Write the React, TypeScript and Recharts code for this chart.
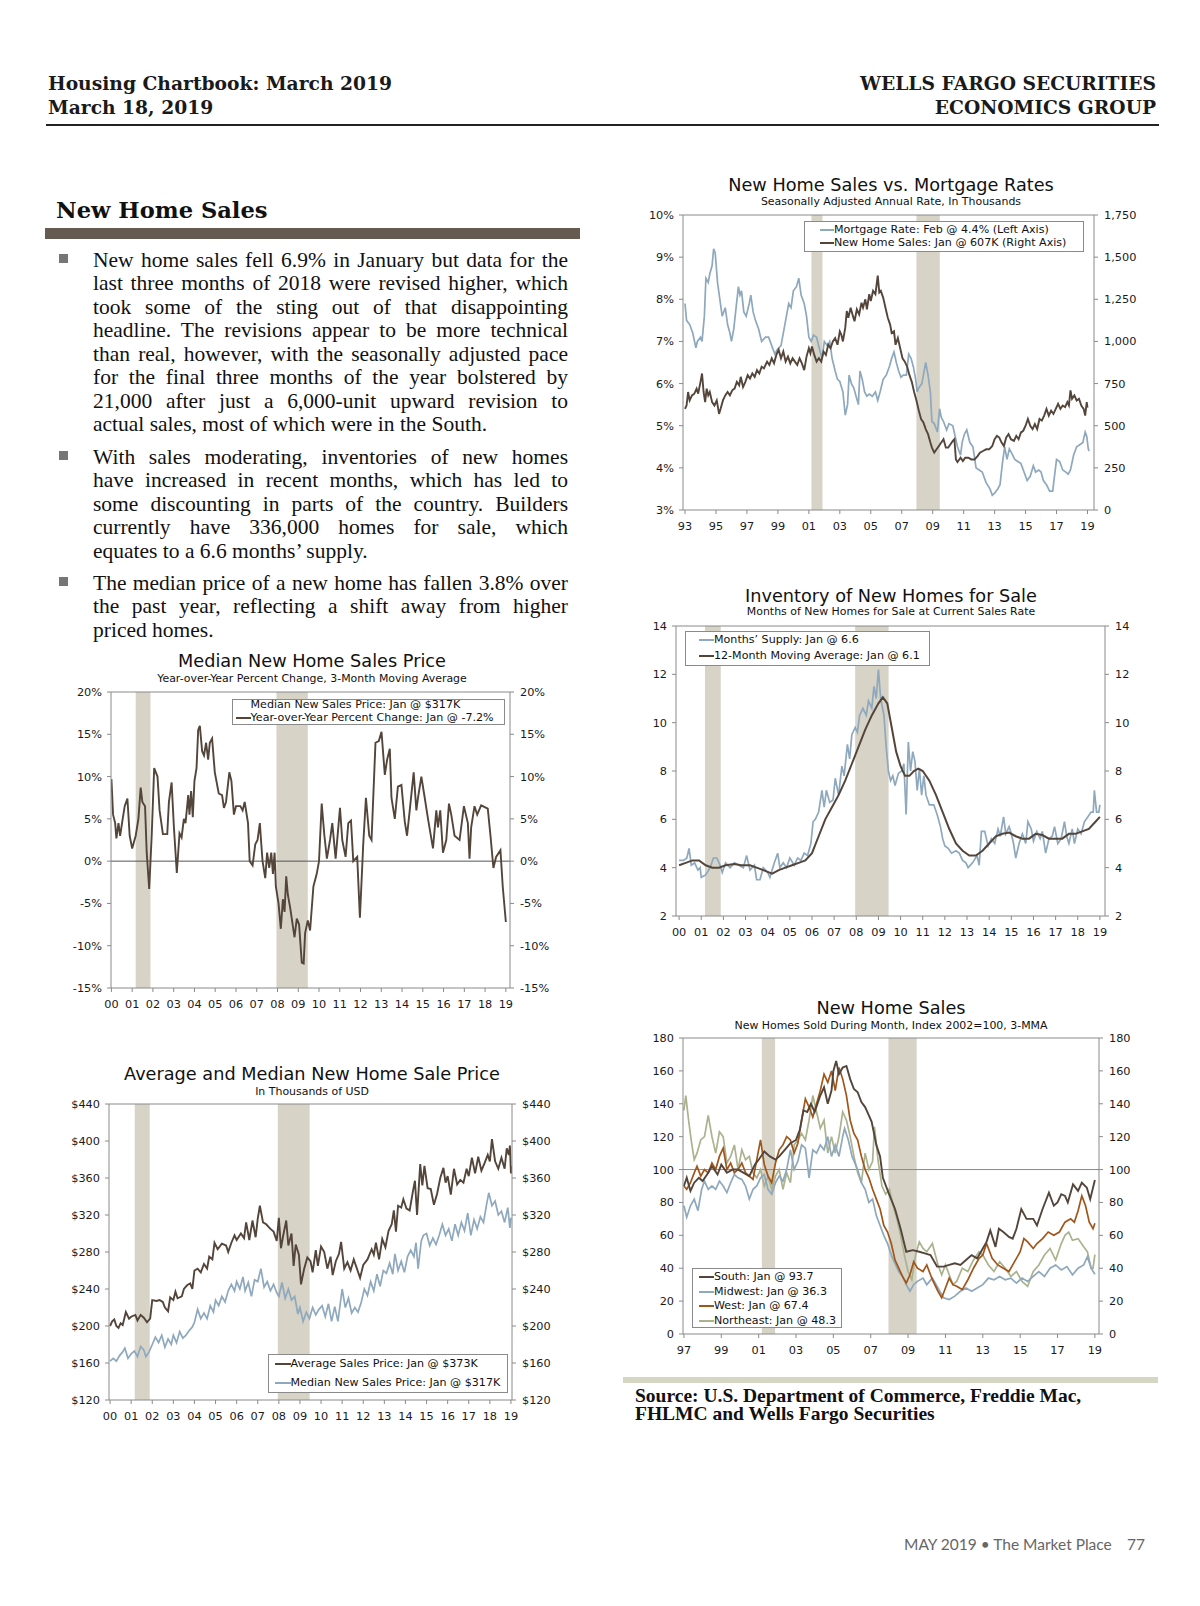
import React from 'react';
import { LineChart, Line, XAxis, YAxis, ReferenceArea, ReferenceLine } from 'recharts';

type Pt = [number, number];

// ---------------- DATA ----------------
const recessions: Pt[] = [[2001.17, 2001.88], [2007.95, 2009.46]];

// Chart: New Home Sales vs. Mortgage Rates
const mortgageRate: Pt[] = [
  [1993.0, 7.9], [1993.1, 7.5], [1993.3, 7.4], [1993.5, 7.2], [1993.7, 6.85], [1993.8, 7.0], [1994.0, 7.1], [1994.1, 7.0],
  [1994.25, 7.6], [1994.35, 8.5], [1994.5, 8.4], [1994.6, 8.6], [1994.75, 8.8], [1994.85, 9.2], [1994.95, 9.1], [1995.1, 8.4],
  [1995.25, 8.0], [1995.4, 7.6], [1995.5, 7.7], [1995.6, 7.8], [1995.75, 7.4], [1995.9, 7.2], [1996.0, 7.0], [1996.15, 7.3],
  [1996.3, 7.8], [1996.45, 8.3], [1996.55, 8.1], [1996.65, 8.2], [1996.8, 7.7], [1996.95, 7.6], [1997.15, 7.9], [1997.25, 8.1],
  [1997.4, 7.7], [1997.55, 7.5], [1997.75, 7.3], [1997.95, 7.0], [1998.2, 7.1], [1998.4, 7.1], [1998.6, 6.9], [1998.8, 6.7],
  [1998.95, 6.8], [1999.2, 6.9], [1999.4, 7.3], [1999.55, 7.6], [1999.7, 7.9], [1999.85, 7.8], [2000.0, 8.2], [2000.2, 8.3],
  [2000.35, 8.5], [2000.5, 8.1], [2000.7, 7.9], [2000.85, 7.6], [2001.0, 7.1], [2001.15, 7.0], [2001.3, 7.15], [2001.5, 7.1],
  [2001.7, 6.8], [2001.85, 6.6], [2002.0, 7.0], [2002.2, 6.9], [2002.35, 7.0], [2002.5, 6.6], [2002.7, 6.3], [2002.85, 6.1],
  [2003.0, 6.05], [2003.2, 5.8], [2003.35, 5.25], [2003.5, 5.5], [2003.6, 6.2], [2003.75, 6.0], [2003.9, 5.9], [2004.05, 5.7],
  [2004.2, 5.5], [2004.3, 6.3], [2004.45, 6.1], [2004.6, 5.8], [2004.75, 5.7], [2004.9, 5.75], [2005.1, 5.7], [2005.3, 5.8],
  [2005.45, 5.6], [2005.6, 5.8], [2005.8, 6.1], [2006.0, 6.2], [2006.2, 6.4], [2006.35, 6.6], [2006.5, 6.75], [2006.65, 6.5],
  [2006.8, 6.3], [2006.95, 6.15], [2007.1, 6.2], [2007.3, 6.2], [2007.45, 6.7], [2007.6, 6.6], [2007.75, 6.4], [2007.9, 6.1],
  [2008.0, 5.8], [2008.1, 5.9], [2008.3, 6.0], [2008.45, 6.3], [2008.55, 6.5], [2008.7, 6.2], [2008.85, 5.8], [2008.95, 5.1],
  [2009.1, 5.05], [2009.3, 4.85], [2009.45, 5.4], [2009.55, 5.2], [2009.7, 5.1], [2009.9, 4.9], [2010.05, 5.05], [2010.3, 5.0],
  [2010.45, 4.75], [2010.6, 4.5], [2010.8, 4.3], [2010.9, 4.6], [2011.05, 4.8], [2011.2, 4.9], [2011.4, 4.6], [2011.6, 4.5],
  [2011.8, 4.0], [2012.0, 3.95], [2012.2, 3.9], [2012.45, 3.65], [2012.7, 3.5], [2012.85, 3.35], [2013.0, 3.4], [2013.2, 3.5],
  [2013.35, 3.6], [2013.5, 4.1], [2013.65, 4.5], [2013.8, 4.2], [2013.95, 4.45], [2014.1, 4.35], [2014.3, 4.2], [2014.5, 4.15],
  [2014.7, 4.1], [2014.9, 3.9], [2015.1, 3.7], [2015.3, 3.8], [2015.5, 4.05], [2015.65, 3.9], [2015.85, 3.95], [2016.0, 3.9],
  [2016.15, 3.7], [2016.35, 3.6], [2016.55, 3.45], [2016.75, 3.45], [2016.9, 3.9], [2017.0, 4.2], [2017.2, 4.15], [2017.4, 3.95],
  [2017.6, 3.9], [2017.75, 3.85], [2017.9, 3.95], [2018.1, 4.3], [2018.3, 4.5], [2018.5, 4.55], [2018.7, 4.6], [2018.85, 4.85],
  [2018.95, 4.75], [2019.05, 4.45], [2019.1, 4.4],
];

const newHomeSalesSaar: Pt[] = [
  [1993.0, 600], [1993.1, 620], [1993.2, 700], [1993.3, 650], [1993.45, 680], [1993.6, 690], [1993.75, 720], [1993.85, 690],
  [1994.0, 760], [1994.1, 810], [1994.2, 700], [1994.3, 640], [1994.4, 720], [1994.5, 680], [1994.6, 700], [1994.75, 640],
  [1994.9, 620], [1995.05, 650], [1995.2, 570], [1995.3, 600], [1995.45, 650], [1995.6, 680], [1995.75, 700], [1995.9, 680],
  [1996.05, 710], [1996.2, 720], [1996.35, 760], [1996.5, 740], [1996.6, 790], [1996.75, 730], [1996.9, 760], [1997.05, 800],
  [1997.2, 780], [1997.35, 810], [1997.5, 790], [1997.65, 830], [1997.8, 810], [1997.95, 850], [1998.1, 840], [1998.3, 880],
  [1998.45, 860], [1998.6, 900], [1998.75, 870], [1998.9, 920], [1999.05, 950], [1999.2, 900], [1999.35, 940], [1999.5, 880],
  [1999.65, 910], [1999.8, 870], [1999.95, 900], [2000.1, 880], [2000.25, 860], [2000.4, 900], [2000.55, 870], [2000.7, 830],
  [2000.85, 910], [2001.0, 960], [2001.1, 930], [2001.2, 970], [2001.35, 920], [2001.5, 880], [2001.65, 900], [2001.8, 880],
  [2001.95, 940], [2002.1, 920], [2002.25, 980], [2002.4, 960], [2002.55, 1000], [2002.7, 1020], [2002.85, 980], [2003.0, 1060],
  [2003.1, 1040], [2003.2, 1000], [2003.35, 1080], [2003.45, 1180], [2003.55, 1140], [2003.7, 1200], [2003.85, 1150],
  [2003.95, 1120], [2004.1, 1190], [2004.25, 1160], [2004.4, 1230], [2004.5, 1200], [2004.65, 1250], [2004.75, 1190],
  [2004.9, 1280], [2005.0, 1240], [2005.15, 1300], [2005.3, 1280], [2005.45, 1390], [2005.55, 1290], [2005.65, 1300],
  [2005.8, 1260], [2005.95, 1200], [2006.1, 1140], [2006.25, 1100], [2006.35, 1050], [2006.5, 1060], [2006.6, 980],
  [2006.75, 1020], [2006.9, 960], [2007.05, 900], [2007.2, 880], [2007.35, 850], [2007.5, 800], [2007.65, 760], [2007.8, 700],
  [2007.95, 650], [2008.1, 590], [2008.25, 540], [2008.4, 520], [2008.55, 480], [2008.7, 450], [2008.85, 400], [2008.95, 370],
  [2009.1, 340], [2009.25, 360], [2009.4, 380], [2009.55, 400], [2009.7, 420], [2009.85, 370], [2010.0, 370], [2010.15, 390],
  [2010.3, 410], [2010.4, 420], [2010.5, 300], [2010.6, 285], [2010.8, 310], [2010.95, 290], [2011.1, 310], [2011.3, 310],
  [2011.5, 300], [2011.7, 300], [2011.9, 320], [2012.05, 340], [2012.25, 350], [2012.45, 360], [2012.65, 360], [2012.85, 380],
  [2013.0, 420], [2013.15, 440], [2013.3, 430], [2013.45, 400], [2013.6, 380], [2013.75, 430], [2013.9, 450], [2014.05, 420],
  [2014.25, 410], [2014.4, 440], [2014.55, 420], [2014.7, 460], [2014.85, 470], [2015.0, 500], [2015.15, 540], [2015.3, 500],
  [2015.45, 480], [2015.6, 510], [2015.75, 480], [2015.9, 540], [2016.05, 530], [2016.2, 560], [2016.35, 600], [2016.5, 560],
  [2016.65, 590], [2016.8, 570], [2016.95, 600], [2017.1, 630], [2017.25, 600], [2017.4, 620], [2017.55, 610], [2017.7, 640],
  [2017.8, 620], [2017.9, 710], [2018.0, 660], [2018.15, 680], [2018.3, 650], [2018.45, 660], [2018.6, 620], [2018.75, 600],
  [2018.85, 560], [2018.95, 640], [2019.0, 607],
];

// Chart: Median New Home Sales Price, YoY % change (3-MMA)
const medianPriceYoY: Pt[] = [
  [2000.0, 9.7], [2000.08, 5.5], [2000.18, 4.5], [2000.24, 2.7], [2000.34, 4.5], [2000.42, 3.0], [2000.53, 4.8], [2000.64, 6.5],
  [2000.77, 7.4], [2000.88, 3.0], [2001.0, 1.5], [2001.17, 3.0], [2001.3, 5.0], [2001.41, 8.7], [2001.49, 7.0], [2001.62, 6.5],
  [2001.7, 1.0], [2001.82, -3.3], [2001.94, 3.0], [2002.06, 11.0], [2002.22, 10.0], [2002.32, 6.0], [2002.48, 3.2],
  [2002.69, 3.2], [2002.77, 7.0], [2002.9, 9.3], [2003.01, 4.0], [2003.15, -1.4], [2003.28, 3.3], [2003.38, 2.8],
  [2003.49, 5.0], [2003.57, 4.5], [2003.7, 7.8], [2003.76, 5.5], [2003.84, 8.3], [2003.92, 5.2], [2004.0, 9.5], [2004.1, 11.0],
  [2004.18, 15.5], [2004.26, 16.0], [2004.37, 13.0], [2004.46, 12.5], [2004.56, 14.0], [2004.66, 12.0], [2004.74, 14.0],
  [2004.85, 14.5], [2004.98, 10.5], [2005.17, 8.0], [2005.33, 7.8], [2005.42, 6.3], [2005.52, 7.0], [2005.68, 10.5],
  [2005.78, 9.5], [2005.9, 5.5], [2006.0, 6.5], [2006.21, 6.5], [2006.32, 6.0], [2006.42, 7.0], [2006.58, 4.5], [2006.66, 0.0],
  [2006.8, -0.5], [2006.93, 2.0], [2007.04, 2.5], [2007.15, 4.5], [2007.22, 2.0], [2007.28, 0.0], [2007.41, -2.0],
  [2007.5, 1.0], [2007.6, -0.8], [2007.7, 1.0], [2007.78, -1.5], [2007.86, 1.0], [2007.92, -3.0], [2008.05, -5.0],
  [2008.16, -8.0], [2008.26, -4.5], [2008.34, -6.0], [2008.42, -1.8], [2008.5, -4.0], [2008.61, -5.5], [2008.82, -9.0],
  [2008.93, -6.8], [2009.04, -7.5], [2009.17, -12.0], [2009.26, -12.1], [2009.33, -8.5], [2009.46, -7.0], [2009.57, -8.2],
  [2009.73, -3.0], [2009.89, -1.5], [2010.0, 0.0], [2010.13, 6.8], [2010.26, 3.0], [2010.38, 0.3], [2010.53, 2.5],
  [2010.64, 4.5], [2010.8, 0.3], [2011.01, 6.3], [2011.12, 2.5], [2011.28, 0.5], [2011.41, 4.5], [2011.54, 4.8],
  [2011.65, 0.0], [2011.84, 0.5], [2011.97, -6.7], [2012.13, 2.0], [2012.26, 7.5], [2012.42, 3.0], [2012.53, 2.5],
  [2012.72, 14.0], [2012.88, 14.2], [2013.01, 15.3], [2013.17, 10.2], [2013.28, 12.0], [2013.41, 13.3], [2013.49, 7.5],
  [2013.65, 5.0], [2013.8, 8.8], [2013.97, 9.0], [2014.13, 4.7], [2014.24, 3.0], [2014.37, 6.0], [2014.56, 10.5],
  [2014.69, 6.0], [2014.77, 7.5], [2014.93, 10.0], [2015.06, 8.0], [2015.25, 5.0], [2015.49, 1.5], [2015.65, 6.0],
  [2015.73, 4.0], [2015.84, 6.0], [2015.97, 1.0], [2016.13, 2.5], [2016.26, 6.8], [2016.37, 5.5], [2016.53, 3.0],
  [2016.77, 2.5], [2016.98, 6.5], [2017.17, 4.5], [2017.25, 0.3], [2017.33, 4.0], [2017.49, 6.5], [2017.62, 5.5],
  [2017.81, 6.6], [2018.13, 6.2], [2018.26, 3.0], [2018.4, -0.8], [2018.53, 0.5], [2018.74, 1.3], [2018.85, -3.0],
  [2019.0, -7.2],
];

// Chart: Inventory of New Homes for Sale (months)
const monthsSupply: Pt[] = [
  [2000.0, 4.3], [2000.2, 4.3], [2000.35, 4.4], [2000.45, 4.8], [2000.55, 4.1], [2000.7, 4.2], [2000.85, 3.9], [2000.95, 4.0],
  [2001.0, 3.6], [2001.2, 3.7], [2001.4, 4.0], [2001.55, 4.4], [2001.7, 4.4], [2001.85, 4.1], [2001.95, 3.8], [2002.1, 4.2],
  [2002.3, 4.0], [2002.5, 4.2], [2002.7, 4.1], [2002.9, 4.0], [2003.05, 4.5], [2003.2, 3.9], [2003.4, 4.1], [2003.5, 3.5],
  [2003.65, 3.5], [2003.8, 4.0], [2004.0, 3.8], [2004.1, 3.6], [2004.3, 4.2], [2004.45, 4.6], [2004.55, 4.0], [2004.7, 4.2],
  [2004.85, 4.0], [2005.0, 4.4], [2005.2, 4.1], [2005.35, 4.4], [2005.5, 4.3], [2005.65, 4.6], [2005.8, 4.5], [2005.95, 5.0],
  [2006.05, 5.9], [2006.15, 6.0], [2006.3, 6.3], [2006.45, 7.2], [2006.55, 6.5], [2006.65, 7.2], [2006.8, 6.7], [2006.95, 6.8],
  [2007.05, 7.7], [2007.2, 7.0], [2007.35, 8.2], [2007.45, 7.8], [2007.6, 9.1], [2007.7, 8.5], [2007.8, 9.5], [2007.95, 9.8],
  [2008.05, 9.6], [2008.15, 10.3], [2008.3, 10.6], [2008.45, 10.3], [2008.55, 10.9], [2008.7, 10.6], [2008.8, 11.5],
  [2008.9, 11.0], [2009.0, 12.2], [2009.1, 11.0], [2009.25, 10.3], [2009.35, 9.0], [2009.45, 8.0], [2009.55, 7.6],
  [2009.65, 7.8], [2009.75, 7.4], [2009.9, 7.9], [2010.05, 8.0], [2010.15, 8.3], [2010.25, 6.2], [2010.35, 9.2],
  [2010.45, 8.0], [2010.55, 8.8], [2010.65, 8.4], [2010.75, 7.2], [2010.85, 8.1], [2010.95, 7.0], [2011.05, 7.8],
  [2011.15, 7.0], [2011.3, 6.6], [2011.5, 6.6], [2011.65, 6.2], [2011.8, 5.7], [2011.9, 5.2], [2012.0, 4.9], [2012.15, 4.8],
  [2012.3, 4.6], [2012.5, 4.7], [2012.65, 4.6], [2012.8, 4.3], [2012.95, 4.2], [2013.05, 4.0], [2013.25, 4.2], [2013.45, 4.5],
  [2013.55, 4.1], [2013.65, 5.5], [2013.8, 5.5], [2013.95, 4.9], [2014.1, 5.2], [2014.25, 5.0], [2014.4, 5.6], [2014.5, 5.3],
  [2014.65, 6.1], [2014.75, 5.4], [2014.9, 5.7], [2015.0, 5.4], [2015.1, 5.0], [2015.2, 4.4], [2015.35, 5.0], [2015.5, 5.4],
  [2015.65, 5.0], [2015.75, 5.9], [2015.9, 5.6], [2016.0, 5.1], [2016.15, 5.5], [2016.3, 5.2], [2016.4, 5.5], [2016.55, 4.6],
  [2016.7, 5.2], [2016.85, 5.3], [2016.95, 5.7], [2017.1, 5.0], [2017.25, 5.2], [2017.4, 5.9], [2017.5, 5.3], [2017.6, 5.0],
  [2017.75, 5.6], [2017.85, 5.0], [2018.0, 5.6], [2018.15, 5.4], [2018.3, 5.9], [2018.45, 6.1], [2018.6, 6.3], [2018.7, 6.3],
  [2018.75, 7.2], [2018.85, 6.3], [2018.95, 6.3], [2019.0, 6.6],
];

const supplyMovingAvg: Pt[] = [
  [2000.0, 4.1], [2000.3, 4.2], [2000.6, 4.3], [2000.9, 4.3], [2001.2, 4.1], [2001.5, 4.0], [2001.8, 4.0], [2002.1, 4.1],
  [2002.5, 4.15], [2002.8, 4.1], [2003.2, 4.1], [2003.5, 4.0], [2003.8, 3.9], [2004.2, 3.75], [2004.5, 3.9], [2004.8, 4.0],
  [2005.1, 4.1], [2005.4, 4.2], [2005.7, 4.3], [2006.0, 4.6], [2006.3, 5.3], [2006.6, 6.0], [2006.9, 6.5], [2007.2, 7.0],
  [2007.5, 7.6], [2007.8, 8.3], [2008.1, 9.0], [2008.4, 9.7], [2008.7, 10.3], [2009.0, 10.8], [2009.2, 11.05], [2009.4, 10.8],
  [2009.6, 9.8], [2009.8, 8.8], [2010.0, 8.2], [2010.2, 7.8], [2010.4, 7.8], [2010.6, 8.0], [2010.8, 8.1], [2011.0, 8.0],
  [2011.3, 7.6], [2011.6, 7.0], [2011.9, 6.3], [2012.2, 5.6], [2012.5, 5.0], [2012.8, 4.7], [2013.1, 4.5], [2013.4, 4.5],
  [2013.7, 4.7], [2014.0, 5.0], [2014.3, 5.3], [2014.6, 5.4], [2014.9, 5.45], [2015.2, 5.3], [2015.5, 5.2], [2015.8, 5.2],
  [2016.1, 5.4], [2016.4, 5.35], [2016.7, 5.2], [2017.0, 5.2], [2017.3, 5.2], [2017.6, 5.4], [2017.9, 5.4], [2018.2, 5.5],
  [2018.5, 5.6], [2018.8, 5.9], [2019.0, 6.1],
];

// Chart: Average and Median New Home Sale Price ($K)
const averagePrice: Pt[] = [
  [2000.0, 200], [2000.1, 205], [2000.2, 207], [2000.3, 200], [2000.4, 198], [2000.5, 203], [2000.6, 201], [2000.75, 215],
  [2000.9, 208], [2001.0, 210], [2001.2, 212], [2001.3, 206], [2001.45, 212], [2001.6, 209], [2001.75, 204], [2001.9, 208],
  [2002.0, 228], [2002.2, 227], [2002.35, 228], [2002.5, 226], [2002.6, 220], [2002.75, 216], [2002.85, 231], [2003.0, 228],
  [2003.1, 237], [2003.2, 230], [2003.4, 232], [2003.5, 240], [2003.65, 244], [2003.8, 246], [2003.9, 240], [2004.0, 260],
  [2004.15, 262], [2004.3, 258], [2004.45, 267], [2004.6, 262], [2004.7, 275], [2004.85, 272], [2004.95, 290], [2005.1, 283],
  [2005.3, 289], [2005.5, 287], [2005.6, 280], [2005.75, 290], [2005.9, 298], [2006.0, 293], [2006.2, 300], [2006.35, 295],
  [2006.45, 312], [2006.6, 293], [2006.75, 314], [2006.9, 296], [2007.0, 316], [2007.1, 330], [2007.25, 312], [2007.4, 310],
  [2007.6, 305], [2007.75, 302], [2007.9, 292], [2008.0, 317], [2008.1, 284], [2008.2, 297], [2008.35, 314], [2008.45, 287],
  [2008.6, 300], [2008.7, 265], [2008.8, 288], [2008.95, 277], [2009.05, 245], [2009.2, 262], [2009.35, 274], [2009.5, 270],
  [2009.6, 258], [2009.75, 282], [2009.85, 265], [2010.0, 286], [2010.15, 280], [2010.3, 262], [2010.45, 275], [2010.55, 255],
  [2010.7, 270], [2010.85, 278], [2010.95, 291], [2011.1, 262], [2011.25, 269], [2011.4, 260], [2011.55, 272], [2011.7, 262],
  [2011.85, 252], [2012.0, 266], [2012.2, 272], [2012.4, 283], [2012.5, 277], [2012.6, 290], [2012.75, 272], [2012.9, 294],
  [2013.05, 285], [2013.2, 303], [2013.35, 310], [2013.45, 325], [2013.55, 302], [2013.65, 330], [2013.8, 328],
  [2013.9, 337], [2014.05, 327], [2014.2, 325], [2014.35, 345], [2014.45, 357], [2014.55, 320], [2014.7, 375], [2014.8, 352],
  [2014.9, 373], [2015.05, 349], [2015.2, 348], [2015.35, 331], [2015.5, 343], [2015.65, 360], [2015.8, 371], [2015.9, 355],
  [2016.0, 362], [2016.15, 342], [2016.3, 370], [2016.45, 353], [2016.6, 358], [2016.75, 355], [2016.9, 370], [2017.0, 362],
  [2017.15, 382], [2017.3, 365], [2017.45, 383], [2017.6, 368], [2017.75, 376], [2017.9, 385], [2018.0, 378], [2018.1, 402],
  [2018.25, 378], [2018.4, 370], [2018.55, 382], [2018.7, 370], [2018.8, 392], [2018.9, 385], [2018.95, 395], [2019.0, 365],
  [2019.05, 373],
];

const medianPrice: Pt[] = [
  [2000.0, 162], [2000.15, 165], [2000.3, 162], [2000.45, 168], [2000.6, 172], [2000.7, 176], [2000.85, 165], [2001.0, 170],
  [2001.15, 173], [2001.3, 167], [2001.45, 178], [2001.6, 174], [2001.7, 167], [2001.85, 172], [2002.0, 180], [2002.15, 188],
  [2002.3, 182], [2002.45, 190], [2002.6, 177], [2002.75, 186], [2002.9, 180], [2003.0, 190], [2003.15, 182], [2003.3, 194],
  [2003.45, 187], [2003.6, 190], [2003.75, 195], [2003.9, 199], [2004.0, 204], [2004.15, 218], [2004.3, 208], [2004.45, 214],
  [2004.6, 208], [2004.75, 222], [2004.9, 215], [2005.0, 228], [2005.15, 222], [2005.3, 232], [2005.45, 226], [2005.6, 238],
  [2005.75, 245], [2005.9, 238], [2006.0, 248], [2006.15, 240], [2006.3, 253], [2006.4, 238], [2006.55, 247], [2006.7, 232],
  [2006.85, 250], [2007.0, 248], [2007.15, 262], [2007.3, 242], [2007.45, 248], [2007.6, 238], [2007.75, 245], [2007.9, 236],
  [2008.0, 232], [2008.15, 247], [2008.3, 230], [2008.45, 240], [2008.6, 228], [2008.75, 232], [2008.9, 213], [2009.0, 220],
  [2009.15, 205], [2009.3, 215], [2009.45, 208], [2009.6, 220], [2009.75, 212], [2009.9, 218], [2010.05, 222], [2010.2, 210],
  [2010.35, 224], [2010.5, 205], [2010.65, 221], [2010.8, 205], [2011.0, 240], [2011.15, 220], [2011.3, 230], [2011.45, 214],
  [2011.6, 220], [2011.75, 215], [2011.9, 225], [2012.05, 240], [2012.2, 233], [2012.35, 248], [2012.5, 238], [2012.65, 256],
  [2012.8, 243], [2012.95, 260], [2013.1, 257], [2013.25, 268], [2013.4, 256], [2013.5, 278], [2013.65, 260], [2013.8, 270],
  [2013.95, 258], [2014.1, 275], [2014.25, 282], [2014.4, 275], [2014.5, 290], [2014.6, 262], [2014.75, 292], [2014.85, 298],
  [2015.0, 300], [2015.15, 287], [2015.3, 295], [2015.45, 288], [2015.6, 298], [2015.75, 310], [2015.9, 298], [2016.05, 305],
  [2016.2, 292], [2016.35, 310], [2016.5, 298], [2016.65, 312], [2016.8, 303], [2016.95, 322], [2017.1, 298], [2017.25, 315],
  [2017.4, 305], [2017.55, 318], [2017.7, 312], [2017.85, 332], [2017.95, 344], [2018.1, 330], [2018.25, 335], [2018.4, 320],
  [2018.55, 324], [2018.7, 312], [2018.85, 328], [2018.95, 306], [2019.0, 317],
];

// Chart: New Home Sales by region, Index 2002=100, 3-MMA
const southIndex: Pt[] = [
  [1997.0, 90], [1997.15, 95], [1997.35, 87], [1997.55, 92], [1997.8, 95], [1998.0, 93], [1998.3, 98], [1998.5, 102],
  [1998.8, 97], [1999.0, 103], [1999.3, 98], [1999.6, 100], [1999.9, 100], [2000.2, 98], [2000.5, 96], [2000.8, 103],
  [2001.0, 106], [2001.3, 111], [2001.6, 108], [2001.9, 106], [2002.1, 108], [2002.4, 112], [2002.7, 116], [2003.0, 118],
  [2003.2, 124], [2003.4, 136], [2003.6, 135], [2003.8, 140], [2004.0, 135], [2004.3, 145], [2004.5, 150], [2004.7, 140],
  [2004.9, 148], [2005.0, 160], [2005.15, 166], [2005.3, 158], [2005.5, 162], [2005.7, 163], [2005.9, 155], [2006.1, 149],
  [2006.3, 147], [2006.5, 141], [2006.7, 138], [2006.9, 133], [2007.05, 129], [2007.3, 115], [2007.5, 108], [2007.65, 95],
  [2007.95, 86], [2008.3, 76], [2008.6, 64], [2008.9, 50], [2009.25, 51], [2009.6, 50], [2009.9, 49], [2010.2, 48],
  [2010.55, 41], [2010.9, 41], [2011.2, 42], [2011.5, 43], [2011.8, 42], [2012.1, 45], [2012.4, 48], [2012.7, 46],
  [2013.0, 52], [2013.2, 56], [2013.4, 63], [2013.68, 53], [2013.86, 64], [2014.1, 62], [2014.4, 59], [2014.6, 58],
  [2014.8, 64], [2015.06, 76], [2015.34, 70], [2015.7, 70], [2015.9, 66], [2016.2, 76], [2016.54, 86], [2016.8, 78],
  [2017.0, 80], [2017.2, 85], [2017.4, 84], [2017.55, 80], [2017.83, 91], [2018.1, 87], [2018.3, 92], [2018.57, 89],
  [2018.75, 82], [2019.0, 93.7],
];

const midwestIndex: Pt[] = [
  [1997.0, 78], [1997.15, 71], [1997.35, 78], [1997.55, 82], [1997.75, 75], [1997.95, 88], [1998.1, 93], [1998.3, 88],
  [1998.5, 90], [1998.7, 88], [1998.9, 93], [1999.1, 90], [1999.3, 86], [1999.5, 92], [1999.7, 97], [1999.9, 95],
  [2000.1, 94], [2000.3, 90], [2000.5, 82], [2000.7, 88], [2000.9, 90], [2001.1, 95], [2001.3, 97], [2001.5, 88],
  [2001.7, 85], [2001.9, 92], [2002.1, 96], [2002.3, 93], [2002.5, 100], [2002.7, 112], [2002.9, 100], [2003.1, 105],
  [2003.3, 115], [2003.5, 113], [2003.7, 95], [2003.9, 112], [2004.1, 110], [2004.3, 115], [2004.5, 112], [2004.7, 120],
  [2004.9, 108], [2005.1, 115], [2005.3, 108], [2005.5, 120], [2005.6, 125], [2005.8, 118], [2006.0, 108], [2006.3, 100],
  [2006.5, 92], [2006.7, 88], [2006.9, 80], [2007.1, 82], [2007.3, 72], [2007.5, 66], [2007.7, 60], [2007.9, 55],
  [2008.1, 48], [2008.3, 43], [2008.5, 38], [2008.7, 35], [2008.9, 30], [2009.1, 26], [2009.3, 30], [2009.5, 32],
  [2009.8, 34], [2010.0, 30], [2010.3, 34], [2010.6, 28], [2010.9, 22], [2011.2, 21], [2011.5, 23], [2011.8, 26],
  [2012.1, 28], [2012.4, 26], [2012.7, 28], [2013.0, 30], [2013.3, 34], [2013.6, 33], [2013.9, 35], [2014.2, 33],
  [2014.5, 34], [2014.8, 31], [2015.1, 34], [2015.4, 32], [2015.7, 35], [2016.0, 38], [2016.3, 35], [2016.6, 40],
  [2016.9, 42], [2017.2, 39], [2017.5, 41], [2017.8, 36], [2018.1, 40], [2018.4, 42], [2018.6, 47], [2018.8, 40],
  [2019.0, 36.3],
];

const westIndex: Pt[] = [
  [1997.0, 90], [1997.15, 88], [1997.35, 92], [1997.55, 98], [1997.7, 102], [1997.9, 96], [1998.1, 100], [1998.3, 98],
  [1998.5, 104], [1998.7, 100], [1998.9, 108], [1999.1, 113], [1999.3, 100], [1999.5, 104], [1999.7, 98], [1999.9, 100],
  [2000.1, 104], [2000.3, 98], [2000.5, 96], [2000.7, 94], [2000.9, 106], [2001.1, 118], [2001.3, 103], [2001.5, 96],
  [2001.7, 92], [2001.9, 104], [2002.1, 112], [2002.3, 115], [2002.5, 120], [2002.7, 118], [2002.9, 110], [2003.1, 116],
  [2003.3, 130], [2003.5, 143], [2003.7, 138], [2003.9, 132], [2004.1, 140], [2004.3, 148], [2004.5, 158], [2004.7, 153],
  [2004.9, 160], [2005.1, 148], [2005.3, 162], [2005.5, 155], [2005.7, 145], [2005.9, 130], [2006.1, 122], [2006.3, 118],
  [2006.5, 108], [2006.7, 100], [2006.9, 95], [2007.1, 88], [2007.3, 82], [2007.5, 76], [2007.7, 66], [2007.9, 62],
  [2008.1, 55], [2008.3, 45], [2008.5, 40], [2008.7, 35], [2008.9, 31], [2009.1, 36], [2009.3, 44], [2009.5, 40],
  [2009.8, 38], [2010.0, 42], [2010.3, 33], [2010.6, 26], [2010.8, 22], [2011.0, 28], [2011.2, 34], [2011.4, 30],
  [2011.6, 29], [2011.9, 27], [2012.2, 33], [2012.5, 40], [2012.8, 46], [2013.0, 48], [2013.2, 55], [2013.5, 46],
  [2013.8, 42], [2014.1, 40], [2014.4, 38], [2014.7, 44], [2015.0, 50], [2015.2, 58], [2015.4, 56], [2015.7, 52],
  [2015.9, 55], [2016.2, 58], [2016.5, 62], [2016.8, 60], [2017.1, 62], [2017.4, 68], [2017.7, 70], [2017.9, 68],
  [2018.1, 75], [2018.3, 84], [2018.5, 78], [2018.7, 68], [2018.9, 64], [2019.0, 67.4],
];

const northeastIndex: Pt[] = [
  [1997.0, 136], [1997.1, 145], [1997.25, 130], [1997.4, 117], [1997.55, 106], [1997.7, 110], [1997.9, 118], [1998.1, 120],
  [1998.3, 133], [1998.5, 120], [1998.7, 110], [1998.9, 123], [1999.1, 120], [1999.3, 104], [1999.5, 108], [1999.7, 115],
  [1999.9, 100], [2000.1, 112], [2000.3, 106], [2000.5, 108], [2000.7, 98], [2000.9, 95], [2001.1, 100], [2001.3, 90],
  [2001.5, 96], [2001.7, 88], [2001.9, 96], [2002.1, 100], [2002.3, 88], [2002.5, 98], [2002.7, 92], [2002.9, 115],
  [2003.1, 118], [2003.3, 122], [2003.5, 118], [2003.7, 130], [2003.9, 145], [2004.1, 135], [2004.3, 125], [2004.5, 130],
  [2004.7, 110], [2004.9, 120], [2005.1, 110], [2005.3, 120], [2005.5, 135], [2005.7, 130], [2005.9, 120], [2006.1, 108],
  [2006.3, 98], [2006.5, 92], [2006.7, 110], [2006.9, 100], [2007.1, 105], [2007.2, 126], [2007.4, 105], [2007.6, 90],
  [2007.8, 85], [2008.0, 88], [2008.2, 78], [2008.4, 70], [2008.6, 60], [2008.8, 48], [2009.0, 38], [2009.2, 33],
  [2009.4, 48], [2009.6, 56], [2009.8, 52], [2010.0, 50], [2010.3, 55], [2010.6, 42], [2010.8, 36], [2011.0, 42],
  [2011.2, 36], [2011.4, 30], [2011.6, 32], [2011.9, 40], [2012.2, 38], [2012.5, 45], [2012.8, 50], [2013.0, 48],
  [2013.3, 42], [2013.6, 38], [2013.9, 44], [2014.2, 40], [2014.5, 35], [2014.8, 38], [2015.1, 32], [2015.4, 29],
  [2015.7, 38], [2016.0, 42], [2016.3, 48], [2016.6, 52], [2016.9, 45], [2017.2, 55], [2017.4, 60], [2017.6, 62],
  [2017.8, 57], [2018.1, 58], [2018.4, 53], [2018.6, 50], [2018.8, 40], [2018.9, 40], [2019.0, 48.3],
];

// Tick values
const ticksYr93 = [1993, 1995, 1997, 1999, 2001, 2003, 2005, 2007, 2009, 2011, 2013, 2015, 2017, 2019];
const ticksYr00 = [2000, 2001, 2002, 2003, 2004, 2005, 2006, 2007, 2008, 2009, 2010, 2011, 2012, 2013, 2014, 2015, 2016, 2017, 2018, 2019];
const ticksYr97 = [1997, 1999, 2001, 2003, 2005, 2007, 2009, 2011, 2013, 2015, 2017, 2019];
const ticksRatePct = [3, 4, 5, 6, 7, 8, 9, 10];
const ticksSalesK = [0, 250, 500, 750, 1000, 1250, 1500, 1750];
const ticksYoY = [-15, -10, -5, 0, 5, 10, 15, 20];
const ticksMonths = [2, 4, 6, 8, 10, 12, 14];
const ticksPrice = [120, 160, 200, 240, 280, 320, 360, 400, 440];
const ticksIndex = [0, 20, 40, 60, 80, 100, 120, 140, 160, 180];

// Text
const para1 = [
  'New home sales fell 6.9% in January but data for the',
  'last three months of 2018 were revised higher, which',
  'took some of the sting out of that disappointing',
  'headline. The revisions appear to be more technical',
  'than real, however, with the seasonally adjusted pace',
  'for the final three months of the year bolstered by',
  '21,000 after just a 6,000-unit upward revision to',
  'actual sales, most of which were in the South.',
];
const para2 = [
  'With sales moderating, inventories of new homes',
  'have increased in recent months, which has led to',
  'some discounting in parts of the country. Builders',
  'currently have 336,000 homes for sale, which',
  'equates to a 6.6 months\u2019 supply.',
];
const para3 = [
  'The median price of a new home has fallen 3.8% over',
  'the past year, reflecting a shift away from higher',
  'priced homes.',
];

// ---------------- STYLE ----------------
const SANS = '"DejaVu Sans", Verdana, sans-serif';
const SERIF = '"Liberation Serif", "Times New Roman", serif';
const SERIF_HEAD = '"DejaVu Serif", Georgia, serif';
const DARK = '#54453b';
const BLUE = '#8ea8bd';
const WEST = '#a0561a';
const NORTHEAST = '#aab28e';
const RECESS = '#d7d3c7';
const AXIS = '#8a8a8a';
const TXT = '#1a1a1a';
const TICK_FS = 11.3;
const LEGEND_FS = 11.1;

const yr2 = (v: number) => String(Math.round(v) % 100).padStart(2, '0');
const pct = (v: number) => `${v}%`;
const plain = (v: number) => String(v);
const dollars = (v: number) => `$${v}`;
const thousands = (v: number) => v.toLocaleString('en-US');

interface Series { pts: Pt[]; color: string; width?: number; axis?: 'l' | 'r'; }
interface PanelProps {
  plot: [number, number, number, number];
  xDomain: [number, number];
  xTicks: number[];
  yDomain: [number, number];
  yTicks: number[];
  yFmt: (v: number) => string;
  rDomain?: [number, number];
  rTicks?: number[];
  rFmt?: (v: number) => string;
  series: Series[];
  refY?: number;
  refColor?: string;
}

function Panel(p: PanelProps) {
  const [L, T, R, B] = p.plot;
  const yW = 60, mT = 10, mB = 4, xH = 28;
  const width = R - L + 2 * yW;
  const height = B - T + mT + mB + xH;
  const tickStyle = { fill: TXT, fontSize: TICK_FS, fontFamily: SANS };
  return (
    <div style={{ position: 'absolute', left: L - yW, top: T - mT, fontFamily: SANS }}>
      <LineChart width={width} height={height} margin={{ top: mT, right: 0, bottom: mB, left: 0 }}>
        <XAxis type="number" dataKey="x" domain={p.xDomain} ticks={p.xTicks} tickFormatter={yr2} interval={0}
          allowDataOverflow height={xH} stroke={AXIS} tick={tickStyle} tickSize={4} tickMargin={8} />
        <YAxis yAxisId="l" type="number" domain={p.yDomain} ticks={p.yTicks} tickFormatter={p.yFmt} interval={0}
          allowDataOverflow width={yW} stroke={AXIS} tick={tickStyle} tickSize={4} tickMargin={5} />
        <YAxis yAxisId="r" orientation="right" type="number" domain={p.rDomain ?? p.yDomain} ticks={p.rTicks ?? p.yTicks}
          tickFormatter={p.rFmt ?? p.yFmt} interval={0} allowDataOverflow width={yW} stroke={AXIS} tick={tickStyle}
          tickSize={4} tickMargin={6} />
        {recessions.map(([a, b], i) => (
          <ReferenceArea key={i} yAxisId="l" x1={a} x2={b} fill={RECESS} fillOpacity={1} stroke="none" ifOverflow="hidden" />
        ))}
        <ReferenceLine yAxisId="l" y={p.yDomain[1]} stroke={AXIS} strokeWidth={1} />
        {p.refY !== undefined && <ReferenceLine yAxisId="l" y={p.refY} stroke={p.refColor ?? '#555'} strokeWidth={1} />}
        {p.series.map((s, i) => (
          <Line key={i} yAxisId={s.axis ?? 'l'} data={s.pts.map(([x, y]) => ({ x, y }))} dataKey="y" type="linear"
            stroke={s.color} strokeWidth={s.width ?? 1.8} dot={false} activeDot={false} isAnimationActive={false} />
        ))}
      </LineChart>
    </div>
  );
}

function Txt({ x, cy, size, font, bold, color = TXT, align = 'left', children }: {
  x: number; cy: number; size: number; font: string; bold?: boolean; color?: string; align?: 'left' | 'right' | 'center'; children: React.ReactNode;
}) {
  const lh = Math.round(size * 1.3);
  const style: React.CSSProperties = {
    position: 'absolute', top: cy - lh / 2, height: lh, lineHeight: `${lh}px`, fontSize: size, fontFamily: font,
    fontWeight: bold ? 700 : 400, color, whiteSpace: 'nowrap',
  };
  if (align === 'left') style.left = x;
  else if (align === 'right') { style.left = x - 1000; style.width = 1000; style.textAlign = 'right'; }
  else { style.left = x - 400; style.width = 800; style.textAlign = 'center'; }
  return <div style={style}>{children}</div>;
}

function ChartTitle({ cx, cy, title, sub, subCy }: { cx: number; cy: number; title: string; sub: string; subCy: number }) {
  return (
    <>
      <Txt x={cx} cy={cy} size={17.7} font={SANS} align="center" color="#111">{title}</Txt>
      <Txt x={cx} cy={subCy} size={10.95} font={SANS} align="center" color="#111">{sub}</Txt>
    </>
  );
}

function LegendBox({ box, markerX, textX, rows }: {
  box: [number, number, number, number]; markerX: number; textX: number; rows: { label: string; color?: string; cy: number }[];
}) {
  const [x, y, w, h] = box;
  return (
    <>
      <div style={{ position: 'absolute', left: x, top: y, width: w, height: h, border: '1px solid #8a8a8a', background: '#fff', boxSizing: 'border-box' }} />
      {rows.map((r, i) => (
        <React.Fragment key={i}>
          {r.color && <div style={{ position: 'absolute', left: markerX, top: r.cy - 1, width: textX - markerX, height: 2, background: r.color }} />}
          <Txt x={textX} cy={r.cy} size={LEGEND_FS} font={SANS} color="#111">{r.label}</Txt>
        </React.Fragment>
      ))}
    </>
  );
}

function Paragraph({ lines, firstCy }: { lines: string[]; firstCy: number }) {
  const step = 23.45;
  return (
    <>
      <div style={{ position: 'absolute', left: 59, top: firstCy - 6, width: 9, height: 9, background: '#767676' }} />
      {lines.map((ln, i) => (
        <div key={i} style={{
          position: 'absolute', left: 93, width: 475, top: firstCy + i * step - 12, height: 24, lineHeight: '24px',
          fontSize: 21.5, fontFamily: SERIF, color: '#111', textAlign: 'justify',
          textAlignLast: i === lines.length - 1 ? 'left' : 'justify',
        }}>{ln}</div>
      ))}
    </>
  );
}

export default function App() {
  return (
    <div style={{ position: 'absolute', left: 0, top: 0, width: 1200, height: 1606, background: '#fff', overflow: 'hidden' }}>
      {/* Header */}
      <Txt x={48} cy={83} size={18.7} font={SERIF_HEAD} bold>Housing Chartbook: March 2019</Txt>
      <Txt x={48} cy={107} size={18.7} font={SERIF_HEAD} bold>March 18, 2019</Txt>
      <Txt x={1156} cy={83} size={18.7} font={SERIF_HEAD} bold align="right">WELLS FARGO SECURITIES</Txt>
      <Txt x={1156} cy={107} size={18.7} font={SERIF_HEAD} bold align="right">ECONOMICS GROUP</Txt>
      <div style={{ position: 'absolute', left: 46, top: 124, width: 1113, height: 2, background: '#222' }} />

      {/* Section heading */}
      <Txt x={56} cy={210} size={22.6} font={SERIF_HEAD} bold color="#111">New Home Sales</Txt>
      <div style={{ position: 'absolute', left: 45, top: 228, width: 535, height: 11, background: '#665b51' }} />

      <Paragraph lines={para1} firstCy={260} />
      <Paragraph lines={para2} firstCy={456.7} />
      <Paragraph lines={para3} firstCy={582.7} />

      {/* Chart 1: New Home Sales vs. Mortgage Rates */}
      <ChartTitle cx={891} cy={185} title="New Home Sales vs. Mortgage Rates" sub="Seasonally Adjusted Annual Rate, In Thousands" subCy={202} />
      <Panel plot={[683, 215, 1094, 510]} xDomain={[1992.87, 2019.42]} xTicks={ticksYr93}
        yDomain={[3, 10]} yTicks={ticksRatePct} yFmt={pct}
        rDomain={[0, 1750]} rTicks={ticksSalesK} rFmt={thousands}
        series={[
          { pts: mortgageRate, color: BLUE, width: 1.7 },
          { pts: newHomeSalesSaar, color: DARK, width: 1.9, axis: 'r' },
        ]} />
      <LegendBox box={[804, 221, 280, 31]} markerX={820} textX={834}
        rows={[
          { label: 'Mortgage Rate: Feb @ 4.4% (Left Axis)', color: BLUE, cy: 229.5 },
          { label: 'New Home Sales: Jan @ 607K (Right Axis)', color: DARK, cy: 243 },
        ]} />

      {/* Chart 2: Median New Home Sales Price YoY */}
      <ChartTitle cx={312} cy={661.5} title="Median New Home Sales Price" sub="Year-over-Year Percent Change, 3-Month Moving Average" subCy={679} />
      <Panel plot={[111, 692, 510, 988]} xDomain={[1999.98, 2019.2]} xTicks={ticksYr00}
        yDomain={[-15, 20]} yTicks={ticksYoY} yFmt={pct} refY={0} refColor="#555"
        series={[{ pts: medianPriceYoY, color: DARK, width: 1.9 }]} />
      <LegendBox box={[232, 699, 273, 26]} markerX={236} textX={250.5}
        rows={[
          { label: 'Median New Sales Price: Jan @ $317K', cy: 705 },
          { label: 'Year-over-Year Percent Change: Jan @ -7.2%', color: DARK, cy: 718 },
        ]} />

      {/* Chart 3: Inventory of New Homes for Sale */}
      <ChartTitle cx={891} cy={596} title="Inventory of New Homes for Sale" sub="Months of New Homes for Sale at Current Sales Rate" subCy={612} />
      <Panel plot={[676, 626, 1105, 916]} xDomain={[1999.86, 2019.23]} xTicks={ticksYr00}
        yDomain={[2, 14]} yTicks={ticksMonths} yFmt={plain}
        series={[
          { pts: monthsSupply, color: BLUE, width: 1.7 },
          { pts: supplyMovingAvg, color: DARK, width: 2 },
        ]} />
      <LegendBox box={[685, 631, 245, 35]} markerX={699} textX={714}
        rows={[
          { label: 'Months\u2019 Supply: Jan @ 6.6', color: BLUE, cy: 640 },
          { label: '12-Month Moving Average: Jan @ 6.1', color: DARK, cy: 656.4 },
        ]} />

      {/* Chart 4: Average and Median New Home Sale Price */}
      <ChartTitle cx={312} cy={1074} title="Average and Median New Home Sale Price" sub="In Thousands of USD" subCy={1091.5} />
      <Panel plot={[109, 1104, 512, 1400]} xDomain={[1999.95, 2019.05]} xTicks={ticksYr00}
        yDomain={[120, 440]} yTicks={ticksPrice} yFmt={dollars}
        series={[
          { pts: averagePrice, color: DARK, width: 1.9 },
          { pts: medianPrice, color: BLUE, width: 1.7 },
        ]} />
      <LegendBox box={[268, 1354, 240, 39]} markerX={275} textX={290.5}
        rows={[
          { label: 'Average Sales Price: Jan @ $373K', color: DARK, cy: 1364 },
          { label: 'Median New Sales Price: Jan @ $317K', color: BLUE, cy: 1383.3 },
        ]} />

      {/* Chart 5: New Home Sales by region */}
      <ChartTitle cx={891} cy={1008.5} title="New Home Sales" sub="New Homes Sold During Month, Index 2002=100,  3-MMA" subCy={1026} />
      <Panel plot={[683, 1038, 1099, 1334]} xDomain={[1996.95, 2019.22]} xTicks={ticksYr97}
        yDomain={[0, 180]} yTicks={ticksIndex} yFmt={plain} refY={100} refColor="#8a8a8a"
        series={[
          { pts: northeastIndex, color: NORTHEAST, width: 1.7 },
          { pts: midwestIndex, color: BLUE, width: 1.7 },
          { pts: westIndex, color: WEST, width: 1.7 },
          { pts: southIndex, color: DARK, width: 1.9 },
        ]} />
      <LegendBox box={[692, 1268, 150, 60]} markerX={699} textX={714}
        rows={[
          { label: 'South: Jan @ 93.7', color: DARK, cy: 1277 },
          { label: 'Midwest: Jan @ 36.3', color: BLUE, cy: 1291.5 },
          { label: 'West: Jan @ 67.4', color: WEST, cy: 1306 },
          { label: 'Northeast: Jan @ 48.3', color: NORTHEAST, cy: 1320.5 },
        ]} />

      {/* Source */}
      <div style={{ position: 'absolute', left: 623, top: 1377, width: 535, height: 6, background: '#d6d7c2' }} />
      <Txt x={635} cy={1395} size={19.5} font={SERIF} bold color="#111">Source: U.S. Department of Commerce, Freddie Mac,</Txt>
      <Txt x={635} cy={1413} size={19.5} font={SERIF} bold color="#111">FHLMC and Wells Fargo Securities</Txt>

      {/* Footer */}
      <Txt x={904} cy={1544} size={15.5} font='Lato, "Open Sans", sans-serif' color="#666">MAY 2019 {'\u2022'} The Market Place</Txt>
      <Txt x={1127} cy={1544} size={15.5} font='Lato, "Open Sans", sans-serif' color="#666">77</Txt>
    </div>
  );
}
